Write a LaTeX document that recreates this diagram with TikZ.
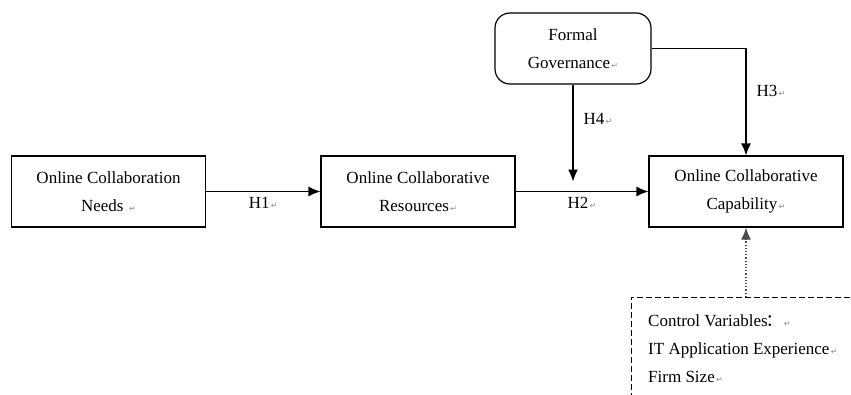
\documentclass[tikz,border=0pt]{standalone}
\usepackage{fontspec}
\setmainfont{Liberation Serif}
\newfontfamily\symfont{DejaVu Sans}
\newfontfamily\cjkfont{Noto Sans CJK SC}
\usetikzlibrary{arrows.meta, positioning}
\newcommand{\retmark}{{\symfont\fontsize{8}{8}\selectfont\color{black!45}\,↵}}
\tikzset{
>={Latex[length=12pt, width=10pt]}, % filled arrow heads
every node/.style={font=\fontsize{17}{28}\selectfont}, % Times-like text everywhere
varbox/.style={draw, line width=1.2pt, fill=white, minimum width=194pt, minimum height=71pt, align=center, inner sep=0pt}, % construct boxes
modbox/.style={varbox, rounded corners=15pt, minimum width=156pt}, % moderator box
ctrlbox/.style={draw, dashed, dash pattern=on 6pt off 3pt, line width=0.9pt, minimum width=260pt, minimum height=140pt, inner sep=0pt}, % control variables frame
link/.style={->, line width=1.2pt}, % hypothesis arrows
hyp/.style={inner sep=2pt, font=\fontsize{17}{20}\selectfont}, % H labels
}

\begin{document}
\begin{tikzpicture}[x=1pt, y=-1pt]
  \useasboundingbox (0,0) rectangle (851,394);
  \clip (0,0) rectangle (851,394);

  \node[varbox] (need) at (108.5,191.5) {Online Collaboration\\Needs \retmark};
  \node[varbox] (res) at (418,191.5) {Online Collaborative\\Resources\retmark};
  \node[varbox] (cap) at (746,191.5) {Online Collaborative\\Capability\retmark};
  \node[modbox] (gov) at (573,48.5) {Formal\\Governance\retmark};

  \node[ctrlbox, anchor=north west] (ctrl) at (631,297) {};
  \node[anchor=north west, align=left, inner sep=0pt] (ctrltext) at (648,314)
    {Control Variables\kern-2pt{\cjkfont ：}\retmark\\IT Application Experience\retmark\\Firm Size\retmark};

  \coordinate (mod) at ([yshift=10pt]gov.south |- res.east);

  \draw[link] (need) -- node[hyp, below=3pt] {H1\retmark} (res);
  \draw[link] (res) -- node[hyp, below=3pt] {H2\retmark} (cap);
  \draw[link] (gov.south) -- node[hyp, pos=0.35, right=8pt] {H4\retmark} (mod);
  \draw[link] (gov.east) -| node[hyp, pos=0.7, right=8pt] {H3\retmark} (cap.north);
  \draw[->, line width=1.2pt, dotted, black!70] (ctrl.north -| cap.south) -- (cap.south);
\end{tikzpicture}
\end{document}
